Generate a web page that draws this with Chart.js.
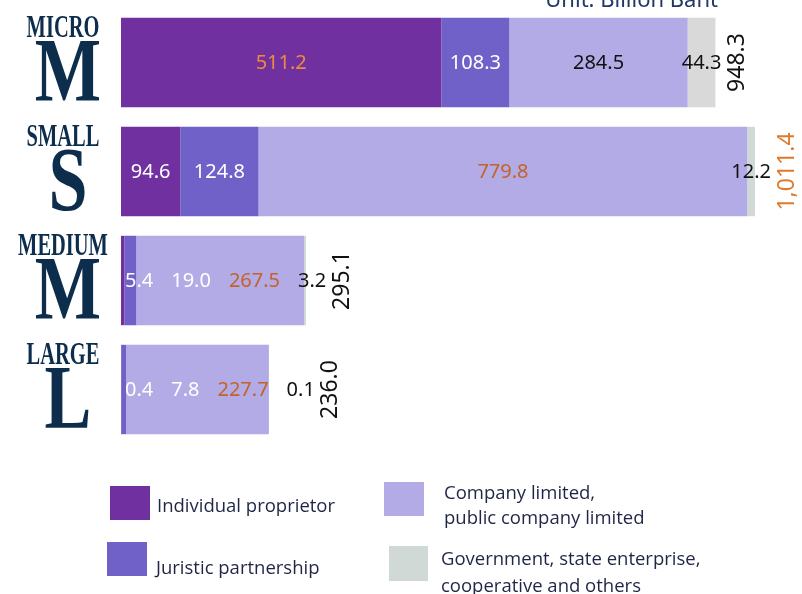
<!DOCTYPE html>
<html lang="en">
<head>
<meta charset="utf-8" />
<title>Value by business size and legal form</title>
<script src="https://cdn.jsdelivr.net/npm/chart.js@4.4.0/dist/chart.umd.min.js"></script>
<style>
  html, body { margin: 0; padding: 0; background: #fff; }
  #wrap { position: relative; width: 802px; height: 594px; overflow: hidden; }
  #legend { position: absolute; left: 0; top: 0; width: 802px; height: 594px; pointer-events: none; }
  .sw { position: absolute; }
  .lt {
    position: absolute;
    font-family: "Open Sans", sans-serif;
    font-size: 18.5px;
    color: #1f2544;
    white-space: pre;
  }
</style>
</head>
<body>
<div id="wrap">
  <canvas id="sizeChart" width="802" height="594"></canvas>
  <div id="legend"></div>
</div>

<script>
  // data
  const categories = ["MICRO", "SMALL", "MEDIUM", "LARGE"];
  const initials = ["M", "S", "M", "L"];
  const seriesNames = [
    "Individual proprietor",
    "Juristic partnership",
    "Company limited,\npublic company limited",
    "Government, state enterprise,\ncooperative and others",
  ];
  const individual = [511.2, 94.6, 5.4, 0.4];
  const juristic = [108.3, 124.8, 19.0, 7.8];
  const company = [284.5, 779.8, 267.5, 227.7];
  const government = [44.3, 12.2, 3.2, 0.1];
  const totals = [948.3, 1011.4, 295.1, 236.0];
  const unitText = "Unit: Billion Baht";

  // styling
  const colors = ["#7030a0", "#7061c9", "#b3abe5", "#d0d9d6"];
  const govColors = ["#d9d9d9", "#d0d9d6", "#d0d9d6", "#d0d9d6"];
  const labelColors = [
    ["#ee8a3c", "#ffffff", "#ffffff", "#ffffff"],
    ["#ffffff", "#ffffff", "#ffffff", "#ffffff"],
    ["#111111", "#c4622a", "#c4622a", "#c4622a"],
    ["#111111", "#111111", "#111111", "#111111"],
  ];
  const totalColors = ["#111111", "#e07a2a", "#111111", "#111111"];
  const navy = "#0c2d4c";

  let fmt = (v) => v.toLocaleString("en-US", { minimumFractionDigits: 1, maximumFractionDigits: 1 });

  // numbers inside / beside each bar, pushed right when they would collide
  const valueLabels = {
    id: "valueLabels",
    afterDatasetsDraw(chart) {
      const ctx = chart.ctx;
      const area = chart.chartArea;
      ctx.save();
      ctx.font = "20px 'Noto Sans', sans-serif";
      ctx.textAlign = "center";
      ctx.textBaseline = "middle";
      categories.forEach((c, i) => {
        let cursor = area.left + 4;
        let lastRight = area.left;
        let end = area.left;
        let y = 0;
        chart.data.datasets.forEach((ds, d) => {
          const bar = chart.getDatasetMeta(d).data[i];
          const text = fmt(ds.data[i]);
          const w = ctx.measureText(text).width;
          const mid = (bar.base + bar.x) / 2;
          const cx = Math.max(mid, cursor + w / 2);
          ctx.fillStyle = labelColors[d][i];
          ctx.fillText(text, cx, bar.y + 1);
          lastRight = cx + w / 2;
          cursor = lastRight + 18;
          end = bar.x;
          y = bar.y;
        });
        // total, rotated
        const tx = Math.max(end + 20, lastRight + 16);
        ctx.save();
        ctx.translate(tx, y);
        ctx.rotate(-Math.PI / 2);
        ctx.font = "23px 'Noto Sans', sans-serif";
        ctx.fillStyle = totalColors[i];
        ctx.fillText(fmt(totals[i]), 0, 0);
        ctx.restore();
      });
      ctx.restore();
    },
  };

  // size names with the big serif initial, plus the unit note
  const sideLabels = {
    id: "sideLabels",
    afterDraw(chart) {
      const ctx = chart.ctx;
      const meta = chart.getDatasetMeta(0);
      ctx.save();
      ctx.fillStyle = navy;
      ctx.textAlign = "center";
      ctx.textBaseline = "alphabetic";
      categories.forEach((c, i) => {
        const yc = meta.data[i].y;
        ctx.save();
        ctx.translate(63, yc - 26);
        ctx.scale(0.64, 1);
        ctx.font = "bold 32px 'Liberation Serif', serif";
        ctx.fillText(c, 0, 0);
        ctx.restore();

        ctx.save();
        ctx.translate(68, yc + 38);
        ctx.scale(0.78, 1);
        ctx.font = "bold 90px 'Liberation Serif', serif";
        ctx.fillText(initials[i], 0, 0);
        ctx.restore();
      });
      ctx.textAlign = "right";
      ctx.fillStyle = "#1f3864";
      ctx.font = "22px 'Noto Sans', sans-serif";
      ctx.fillText(unitText, 718, 7);
      ctx.restore();
    },
  };

  let sizeChart = new Chart(document.getElementById("sizeChart"), {
    type: "bar",
    data: {
      labels: categories,
      datasets: [
        { label: seriesNames[0], data: individual, backgroundColor: colors[0] },
        { label: seriesNames[1], data: juristic, backgroundColor: colors[1] },
        { label: seriesNames[2], data: company, backgroundColor: colors[2] },
        { label: seriesNames[3], data: government, backgroundColor: govColors },
      ],
    },
    options: {
      indexAxis: "y",
      responsive: false,
      animation: false,
      layout: { padding: { left: 121, right: 47, top: 8, bottom: 150 } },
      datasets: { bar: { barPercentage: 0.82, categoryPercentage: 1.0, borderWidth: 0 } },
      scales: {
        x: { stacked: true, display: false, min: 0, max: Math.max(...totals) },
        y: { stacked: true, display: false },
      },
      plugins: { legend: { display: false }, tooltip: { enabled: false } },
    },
    plugins: [valueLabels, sideLabels],
  });

  // legend, two columns
  const legendSpots = [
    { sx: 110, sy: 486, sw: 40, sh: 34, tx: 157, ty: 491 },
    { sx: 107, sy: 542, sw: 40, sh: 34, tx: 156, ty: 553 },
    { sx: 384, sy: 482, sw: 40, sh: 34, tx: 444, ty: 479, lh: 25 },
    { sx: 389, sy: 546, sw: 39, sh: 35, tx: 441, ty: 544, lh: 27 },
  ];
  let legendHtml = "";
  seriesNames.forEach((name, k) => {
    const p = legendSpots[k];
    legendHtml +=
      '<div class="sw" style="left:' + p.sx + "px;top:" + p.sy + "px;width:" + p.sw + "px;height:" + p.sh +
      "px;background:" + colors[k] + '"></div>' +
      '<div class="lt" style="left:' + p.tx + "px;top:" + p.ty + "px;line-height:" + (p.lh || 27) + 'px">' +
      name + "</div>";
  });
  document.getElementById("legend").innerHTML = legendHtml;
</script>
</body>
</html>
